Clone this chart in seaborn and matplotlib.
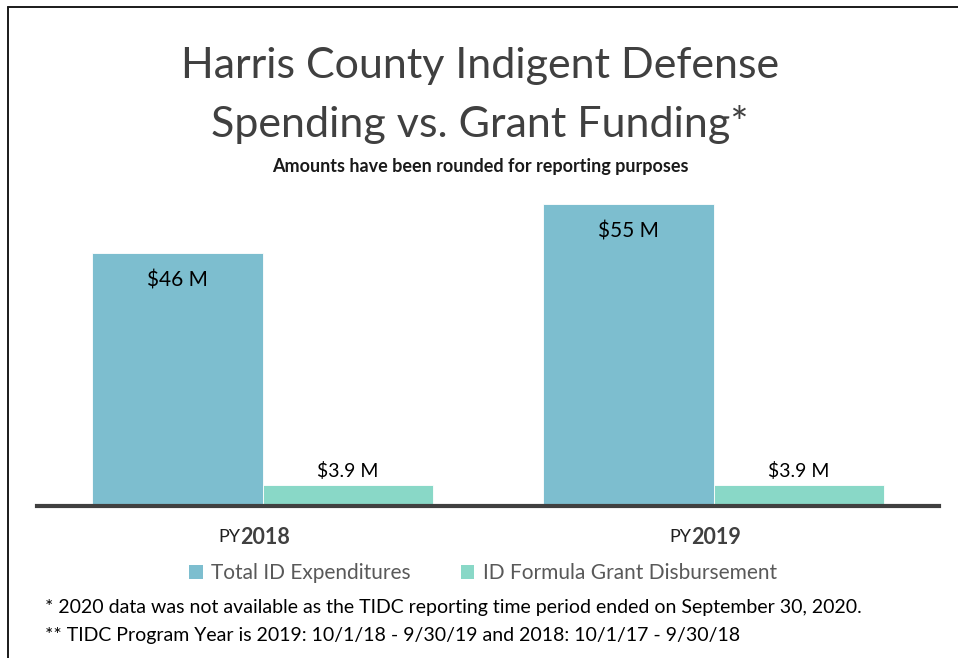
import pandas as pd
import matplotlib.pyplot as plt
import matplotlib.transforms as mtransforms
from matplotlib.lines import Line2D
from matplotlib.patches import Patch
import seaborn as sns

# values (millions of dollars)
years = ["2018", "2019"]
series = ["Total ID Expenditures", "ID Formula Grant Disbursement"]
total_spend = [46, 55]
grant_funding = [3.9, 3.9]
total_labels = ["$46 M", "$55 M"]
grant_labels = ["$3.9 M", "$3.9 M"]
colors = ["#7DBECF", "#89D8C7"]

df = pd.DataFrame({
    "year": years * 2,
    "series": [series[0]] * 2 + [series[1]] * 2,
    "amount": total_spend + grant_funding,
})

W, H = 958, 658
sns.set_theme(style="white")
plt.rcParams["font.family"] = ["Lato", "DejaVu Sans"]

fig = plt.figure(figsize=(W / 100, H / 100), dpi=100)

def fx(px):
    return px / W

def fy(py):
    return 1 - py / H

ax = fig.add_axes([fx(37), fy(506), fx(939) - fx(37), fy(190) - fy(506)])

sns.barplot(data=df, x="year", y="amount", hue="series", palette=colors,
            saturation=1, width=0.754, gap=0, edgecolor="white", linewidth=0.6,
            legend=False, ax=ax)
ax.set_xlim(-0.5, 1.5)
ax.set_ylim(0, 55 * 316 / 302)

# value labels
for i in range(len(years)):
    ax.annotate(total_labels[i], (i - 0.1885, total_spend[i]), xytext=(0, -19.5),
                textcoords="offset points", ha="center", va="center",
                fontsize=15, color="black")
    ax.annotate(grant_labels[i], (i + 0.1885, grant_funding[i]), xytext=(0, 9.5),
                textcoords="offset points", ha="center", va="center",
                fontsize=14, color="black")

# axis styling
for s in ["top", "right", "left"]:
    ax.spines[s].set_visible(False)
ax.spines["bottom"].set_color("#404040")
ax.spines["bottom"].set_linewidth(3)
ax.set_yticks([])
ax.set_xticks([])
ax.set_xlabel("")
ax.set_ylabel("")

# "PY" + year tick labels
base = mtransforms.blended_transform_factory(ax.transData, fig.transFigure)
label_tr = mtransforms.offset_copy(base, fig=fig, x=-22, y=0, units="dots")
for i, yr in enumerate(years):
    ax.text(i, fy(537), "PY", transform=label_tr,
            ha="right", va="center", fontsize=13, color="#202020")
    ax.text(i, fy(537), yr, transform=label_tr,
            ha="left", va="center", fontsize=15.5, color="#404040", fontweight="bold")

# legend
handles = [Patch(facecolor=c, edgecolor="none") for c in colors]
fig.legend(handles, series, loc="center", bbox_to_anchor=(fx(483), fy(573)),
           ncol=2, frameon=False, fontsize=15, labelcolor="#595959",
           handlelength=0.65, handleheight=0.65, handletextpad=0.4,
           columnspacing=2.4)

# titles
fig.text(fx(480), fy(66), "Harris County Indigent Defense", ha="center", va="center",
         fontsize=31, color="#404040")
fig.text(fx(480), fy(124), "Spending vs. Grant Funding*", ha="center", va="center",
         fontsize=31, color="#404040")
fig.text(fx(480), fy(166), "Amounts have been rounded for reporting purposes",
         ha="center", va="center", fontsize=13, color="#1a1a1a", fontweight="bold")

# footnotes
fig.text(fx(45), fy(608), "* 2020 data was not available as the TIDC reporting time period ended on September 30, 2020.",
         ha="left", va="center", fontsize=14, color="black")
fig.text(fx(45), fy(635), "** TIDC Program Year is 2019: 10/1/18 - 9/30/19 and 2018: 10/1/17 - 9/30/18",
         ha="left", va="center", fontsize=14, color="black")

# outer frame (left and top edges)
fig.add_artist(Line2D([fx(8), fx(8)], [fy(7), 0], transform=fig.transFigure,
                      color="#1a1a1a", linewidth=1.4))
fig.add_artist(Line2D([fx(8), 1], [fy(7), fy(7)], transform=fig.transFigure,
                      color="#1a1a1a", linewidth=1.4))

fig.savefig("out.png", dpi=100, facecolor="white")
